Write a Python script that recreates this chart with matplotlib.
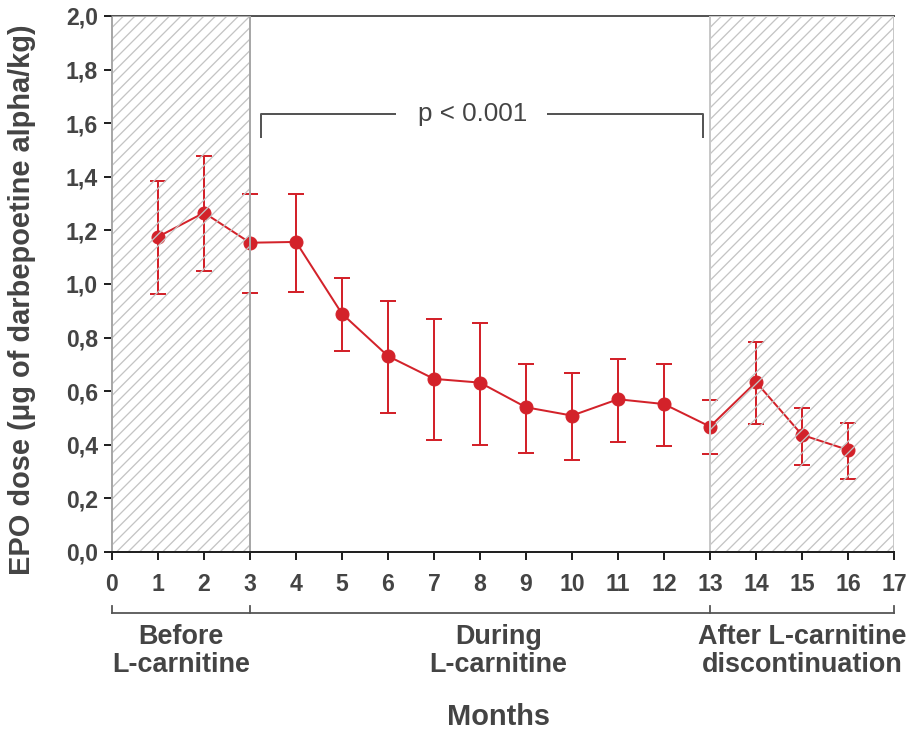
import matplotlib
matplotlib.use("Agg")
import matplotlib.pyplot as plt
from matplotlib.patches import Rectangle
import numpy as np

# EPO dose by month (mean with error range)
months = [1, 2, 3, 4, 5, 6, 7, 8, 9, 10, 11, 12, 13, 14, 15, 16]
dose = [1.176, 1.266, 1.154, 1.157, 0.889, 0.731, 0.646, 0.632, 0.540, 0.509,
        0.570, 0.552, 0.468, 0.634, 0.437, 0.381]
upper = [1.384, 1.477, 1.335, 1.337, 1.022, 0.936, 0.868, 0.856, 0.701, 0.668,
         0.720, 0.701, 0.568, 0.782, 0.537, 0.482]
lower = [0.962, 1.050, 0.966, 0.970, 0.749, 0.519, 0.419, 0.398, 0.369, 0.343,
         0.410, 0.397, 0.364, 0.479, 0.326, 0.271]

x_ticks = list(range(0, 18))
y_ticks = [0.0, 0.2, 0.4, 0.6, 0.8, 1.0, 1.2, 1.4, 1.6, 1.8, 2.0]
y_tick_labels = ["0,0", "0,2", "0,4", "0,6", "0,8", "1,0", "1,2", "1,4", "1,6", "1,8", "2,0"]

# study phases: (start, end, label, label centre)
phases = [(0, 3, "Before\nL-carnitine", 1.5),
          (3, 13, "During\nL-carnitine", 8.4),
          (13, 17, "After L-carnitine\ndiscontinuation", 15.0)]
shaded = [(0, 3, "#a8a8a8"), (13, 17, "#c8c8c8")]

p_text = "p < 0.001"
bracket_x = (3.24, 12.85)
bracket_y = (1.635, 1.547)
bracket_gap = (6.15, 9.48)

RED = "#d3222a"
TXT = "#444444"
DARK = "#555555"
HATCH = "#c4c4c4"

plt.rcParams["font.family"] = ["Liberation Sans", "DejaVu Sans"]

W, H = 912, 735
ax_px = (112, 16, 894, 552)  # left, top, right, bottom in pixels
fig = plt.figure(figsize=(W / 72, H / 72), dpi=72)
ax = fig.add_axes([ax_px[0] / W, 1 - ax_px[3] / H, (ax_px[2] - ax_px[0]) / W,
                   (ax_px[3] - ax_px[1]) / H])

XMAX, YMAX = 17, 2.0
ax.set_xlim(0, XMAX)
ax.set_ylim(0, YMAX)

dose_a = np.array(dose)
yerr = [dose_a - np.array(lower), np.array(upper) - dose_a]
ax.errorbar(months, dose, yerr=yerr, color=RED, lw=2, elinewidth=2, capsize=8,
            capthick=2, marker="o", ms=13, mec=RED, mfc=RED, zorder=3)

# hatched phase areas (45-degree lines every ~11.5 px), drawn over the data
px_per_x = (ax_px[2] - ax_px[0]) / XMAX
px_per_y = (ax_px[3] - ax_px[1]) / YMAX
slope = px_per_x / px_per_y          # data-y per data-x for a 45-degree line
step = 11.5 / px_per_x                # horizontal spacing in data units
for x0, x1, ec in shaded:
    clip = Rectangle((x0, 0), x1 - x0, YMAX, facecolor="none", edgecolor="none",
                     transform=ax.transData)
    ax.add_patch(clip)
    span = YMAX / slope
    for c in np.arange(x0 - span, x1 + step, step):
        ln, = ax.plot([c, c + span], [0, YMAX], color=HATCH, lw=1.3, zorder=4,
                      solid_capstyle="butt")
        ln.set_clip_path(clip)
    ax.add_patch(Rectangle((x0, 0), x1 - x0, YMAX, facecolor="none", edgecolor=ec,
                           lw=2, zorder=4.5))

# significance bracket
ax.plot([bracket_x[0], bracket_x[0], bracket_gap[0]],
        [bracket_y[1], bracket_y[0], bracket_y[0]], color=DARK, lw=2, zorder=2)
ax.plot([bracket_gap[1], bracket_x[1], bracket_x[1]],
        [bracket_y[0], bracket_y[0], bracket_y[1]], color=DARK, lw=2, zorder=2)
ax.text(7.85, bracket_y[0], p_text, ha="center", va="center", fontsize=26,
        color=TXT)

# axes styling
ax.spines["right"].set_visible(False)
ax.spines["top"].set_color(DARK)
ax.spines["top"].set_linewidth(2)
ax.spines["left"].set_color("#a8a8a8")
ax.spines["left"].set_linewidth(2)
ax.spines["bottom"].set_color("#222222")
ax.spines["bottom"].set_linewidth(2)
ax.spines["bottom"].set_zorder(5)

ax.set_xticks(x_ticks)
ax.set_xticklabels([str(v) for v in x_ticks])
ax.set_yticks(y_ticks)
ax.set_yticklabels(y_tick_labels)
ax.tick_params(axis="x", direction="out", length=8, width=2, color="#222222",
               pad=13, labelsize=23, labelcolor=TXT)
ax.tick_params(axis="y", direction="out", length=8, width=2, color="#222222",
               pad=6, labelsize=23, labelcolor=TXT)
for lab in ax.get_xticklabels() + ax.get_yticklabels():
    lab.set_fontweight("bold")

wid = ax_px[2] - ax_px[0]
hgt = ax_px[3] - ax_px[1]
ax.set_ylabel("EPO dose (\u03bcg of darbepoetine alpha/kg)", fontsize=29,
              fontweight="bold", color=TXT)
ax.yaxis.set_label_coords((36 - ax_px[0]) / wid, (ax_px[3] - 300) / hgt)

# phase bracket below the month axis
trans = ax.get_xaxis_transform()
y_line = (ax_px[3] - 613) / hgt
y_tick = (ax_px[3] - 606) / hgt
ax.plot([0, XMAX], [y_line, y_line], color=DARK, lw=1.8, transform=trans, clip_on=False)
for xb in [0, 3, 13, 17]:
    ax.plot([xb, xb], [y_line, y_tick], color=DARK, lw=1.8, transform=trans,
            clip_on=False)
for x0, x1, label, xc in phases:
    ax.text(xc, (ax_px[3] - 651) / hgt, label, transform=trans, ha="center",
            va="center", fontsize=27, fontweight="bold", color=TXT, linespacing=1.05)

ax.text(8.4, (ax_px[3] - 717) / hgt, "Months", transform=trans, ha="center",
        va="center", fontsize=29, fontweight="bold", color=TXT)

fig.savefig("out.png", dpi=72)
